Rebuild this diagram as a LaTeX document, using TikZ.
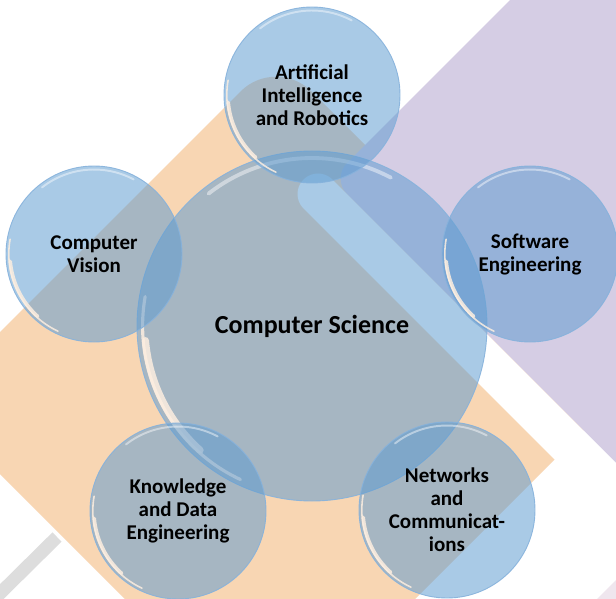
\documentclass[tikz,border=0pt]{standalone}
\usepackage{fontspec}
\setmainfont{Carlito}
\definecolor{peach}{HTML}{F8D6B3}
\definecolor{lilac}{HTML}{D5CDE4}
\definecolor{palelilac}{HTML}{EFE6EE}
\definecolor{stripegray}{HTML}{DDDDDD}
\definecolor{bubblefill}{HTML}{5E9BD0}
\definecolor{bubblerim}{HTML}{86B2DC}
\definecolor{cream}{HTML}{FCEEE0}
\tikzset{
  bubble/.style={circle, inner sep=0pt, fill=bubblefill, fill opacity=0.53, text opacity=1, align=center},
  smalltext/.style={font=\bfseries\fontsize{21}{23}\selectfont},
  bigtext/.style={font=\bfseries\fontsize{26}{30}\selectfont},
  rimline/.style={draw=bubblerim, line width=0.9pt, opacity=0.9},
  tophl/.style={draw=white, opacity=0.45, line cap=round},
  lowhl/.style={draw=cream, opacity=0.85, line cap=round},
}
\newcommand{\bubbleat}[6]{%
  \node[bubble, minimum size=2*#4, #5] (#1) at (#2,#3) {#6};
  \draw[rimline] (#1.center) circle[radius=#4];
  \draw[tophl, line width=0.022*#4] (#1.center) ++(232:0.96*#4) arc[start angle=232, end angle=298, radius=0.96*#4];
  \draw[lowhl, line width=0.04*#4] (#1.center) ++(132:0.955*#4) arc[start angle=132, end angle=175, radius=0.955*#4];
  \draw[lowhl, line width=0.018*#4] (#1.center) ++(115:0.968*#4) arc[start angle=115, end angle=190, radius=0.968*#4];
}
\begin{document}
\begin{tikzpicture}[x=1pt,y=-1pt]
\useasboundingbox (0,0) rectangle (616,599);
\begin{scope}
\clip (0,0) rectangle (616,599);
\fill[white] (0,0) rectangle (616,599);
% background shapes
\draw[stripegray, line width=13, line cap=butt] (-30,623) -- (57,537);
\fill[peach, rounded corners=50] (446.5,226.5) -- (617,397) -- (270,744) -- (-71,403) -- (276,56) -- cycle;
\fill[lilac, rounded corners=22] (420,90) -- (331.5,178.5) -- (760,607) -- (760,-250) -- cycle;
\draw[white, line width=41, line cap=round] (318,194) -- (760,636);
\fill[palelilac] (596,600) -- (617,579) -- (617,600) -- cycle;
% bubbles
\bubbleat{cs}{312}{326}{175}{bigtext}{Computer Science}
\bubbleat{ai}{312}{95}{88}{smalltext}{Artificial\\Intelligence\\and Robotics}
\bubbleat{se}{530}{254}{88}{smalltext}{Software\\Engineering}
\bubbleat{nc}{447}{510}{88}{smalltext}{Networks\\and\\Communicat-\\ions}
\bubbleat{kde}{178}{511}{88}{smalltext}{Knowledge\\and Data\\Engineering}
\bubbleat{cv}{94}{254}{88}{smalltext}{Computer\\Vision}
\end{scope}
\end{tikzpicture}
\end{document}
